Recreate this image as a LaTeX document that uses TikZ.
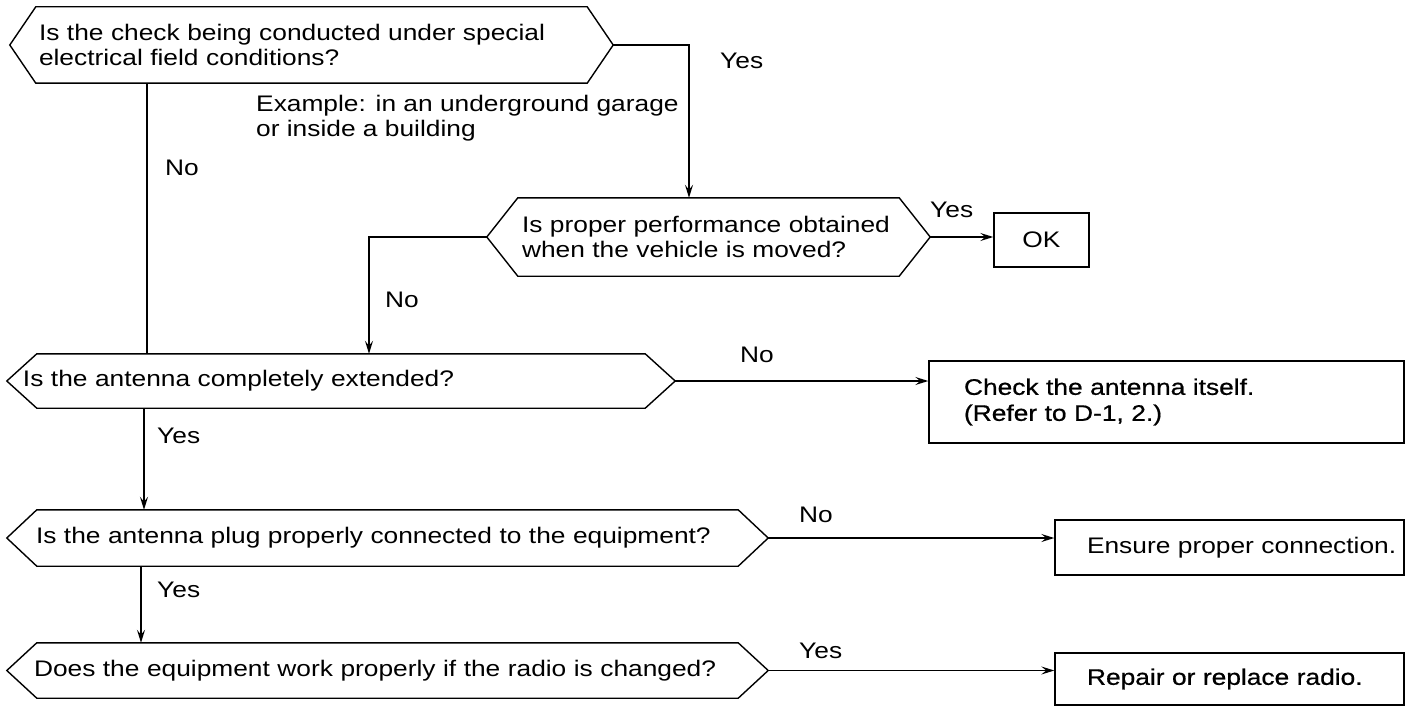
\documentclass[tikz,border=0pt]{standalone}
\usepackage{fontspec}
\setmainfont{Liberation Sans}[FakeStretch=1.17]
\newfontfamily\heavyfont{Liberation Sans}[FakeStretch=1.17,FakeBold=0.7]
\usetikzlibrary{arrows.meta}

% hexagonal decision frame around a text node: #1 node name, #2 corner inset
\newcommand\hexframe[2]{%
  \draw[ln] (#1.west) -- ([xshift=#2]#1.north west) -- ([xshift=-#2]#1.north east)
    -- (#1.east) -- ([xshift=-#2]#1.south east) -- ([xshift=#2]#1.south west) -- cycle;}

\begin{document}
\begin{tikzpicture}[x=1pt,y=-1pt,
  every node/.style={font=\fontsize{22.5}{25}\selectfont},
  ln/.style={line width=1.4pt,line join=miter},
  arr/.style={ln,-{Stealth[length=13pt,width=8pt,inset=5pt]}},
  hexq/.style={inner ysep=0pt,align=left},
  box/.style={draw,line width=1.4pt,inner ysep=0pt,align=left},
  lbl/.style={inner sep=0pt,anchor=north west}]

\useasboundingbox (0,0) rectangle (1408,706);

% decisions
\node[hexq,inner xsep=29pt,text width=545pt,minimum height=76pt] (q1) at (311.5,45)
  {Is the check being conducted under special\\electrical field conditions?};
\node[hexq,inner xsep=35pt,text width=373pt,minimum height=78pt] (q2) at (708.5,237)
  {Is proper performance obtained\\when the vehicle is moved?};
\node[hexq,inner xsep=16pt,text width=636pt,minimum height=54pt] (q3) at (341,381)
  {Is the antenna completely extended?};
\node[hexq,inner xsep=29pt,text width=703pt,minimum height=56pt] (q4) at (387.5,538)
  {Is the antenna plug properly connected to the equipment?};
\node[hexq,inner xsep=27pt,text width=707pt,minimum height=55pt] (q5) at (387.5,670.5)
  {Does the equipment work properly if the radio is changed?};

\hexframe{q1}{26pt}
\hexframe{q2}{31pt}
\hexframe{q3}{30pt}
\hexframe{q4}{30pt}
\hexframe{q5}{30pt}

% results
\node[box,minimum width=95pt,minimum height=54pt,align=center] (ok) at (1041.5,240) {OK};
\node[box,inner xsep=35pt,text width=405pt,minimum height=82pt,
  font=\fontsize{22.5}{26}\heavyfont] (chk) at (1166.5,402)
  {Check the antenna itself.\\(Refer to D-1, 2.)};
\node[box,inner xsep=32pt,text width=285pt,minimum height=55pt] (ens) at (1229.5,547.5)
  {\mbox{Ensure proper connection.}};
\node[box,inner xsep=32pt,text width=285pt,minimum height=52pt,
  font=\fontsize{22.5}{26}\heavyfont] (rep) at (1229.5,679)
  {\mbox{Repair or replace radio.}};

% turning points of the connectors
\coordinate (c1) at (689,45);
\coordinate (c2) at (369,237);
\coordinate (xa) at (147,0);
\coordinate (xb) at (144,0);
\coordinate (xc) at (141,0);

% connectors
\draw[arr] (q1.east) -- (c1) -- (c1 |- q2.north);
\draw[ln] (xa |- q1.south) -- (xa |- q3.north);
\draw[arr] (q2.east) -- (q2.east -| ok.west);
\draw[arr] (q2.west) -- (c2) -- (c2 |- q3.north);
\draw[arr] (q3.east) -- (q3.east -| chk.west);
\draw[arr] (xb |- q3.south) -- (xb |- q4.north);
\draw[arr] (q4.east) -- (q4.east -| ens.west);
\draw[arr] (xc |- q4.south) -- (xc |- q5.north);
\draw[arr] (q5.east) -- (q5.east -| rep.west);

% branch labels
\node[lbl] (y1) at (720,53) {Yes};
\node[lbl] (n1) at (165,160) {No};
\node[lbl,align=left] (ex) at (256,95)
  {Example: in an underground garage\\or inside a building};
\node[lbl] (y2) at (930,202) {Yes};
\node[lbl] (n2) at (385,292) {No};
\node[lbl] (n3) at (740,347) {No};
\node[lbl] (y3) at (157,428) {Yes};
\node[lbl] (n4) at (799,507) {No};
\node[lbl] (y4) at (157,582) {Yes};
\node[lbl] (y5) at (799,643) {Yes};
\end{tikzpicture}
\end{document}
